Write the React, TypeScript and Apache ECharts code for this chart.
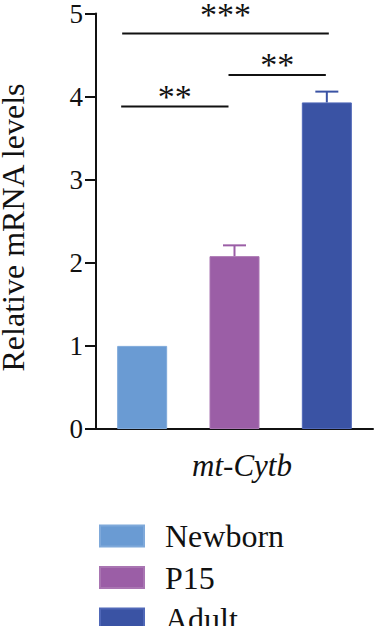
import React, { useEffect, useRef } from "react";
import * as echarts from "echarts";

const categories = ["Newborn", "P15", "Adult"];
const means = [1.0, 2.08, 3.93];
const sem = [0, 0.13, 0.13];
const colors = ["#6A9BD3", "#9B5EA6", "#3A53A4"];
const borderColors = ["#7FA9DA", "#A975B2", "#5068B8"];

const sigFrom = [0, 1, 0];
const sigTo = [1, 2, 2];
const sigY = [3.88, 4.26, 4.76];
const sigLabels = ["**", "**", "***"];

const yMin = 0;
const yMax = 5;
const yInterval = 1;

const xTitle = "mt-Cytb";
const yTitle = "Relative mRNA levels";

// pixel offsets (style) for significance brackets
const sigFromOff = [-21, -6, -20];
const sigToOff = [-6, -1, 2];
const sigTextGap = [10, 10, 19];

const FONT = "'Liberation Serif', 'Times New Roman', serif";

export default function App() {
  const ref = useRef<HTMLDivElement>(null);

  useEffect(() => {
    document.body.style.margin = "0";
    const chart = echarts.init(ref.current!, null, { renderer: "svg" });

    const barSeries = categories.map((name, i) => ({
      name,
      type: "bar",
      barWidth: 50,
      barGap: "-100%",
      data: categories.map((_, j) => (j === i ? means[j] : null)),
      itemStyle: { color: colors[i], borderColor: borderColors[i], borderWidth: 1 },
      z: 2,
    }));

    const errData = categories
      .map((_, i) => [i, means[i], means[i] + sem[i]])
      .filter((d) => sem[d[0]] > 0);

    const sigData = sigFrom.map((f, i) => [f, sigTo[i], sigY[i], i]);

    const option: any = {
      animation: false,
      grid: { left: 96, right: 2, top: 9, bottom: 626 - 429 },
      legend: {
        data: categories,
        orient: "vertical",
        left: 94,
        top: 515,
        height: 140,
        icon: "rect",
        itemWidth: 44,
        itemHeight: 21,
        itemGap: 9.5,
        selectedMode: false,
        textStyle: {
          fontFamily: FONT,
          fontSize: 32,
          color: "#111",
          padding: [0, 0, 0, 16],
        },
      },
      xAxis: {
        type: "category",
        data: categories,
        axisLine: { lineStyle: { color: "#111", width: 2 } },
        axisTick: { alignWithLabel: true, length: 10, lineStyle: { color: "#111", width: 2 } },
        axisLabel: { show: false },
        splitLine: { show: false },
      },
      yAxis: {
        type: "value",
        min: yMin,
        max: yMax,
        interval: yInterval,
        axisLine: { show: true, lineStyle: { color: "#111", width: 2 } },
        axisTick: { show: true, length: 11, lineStyle: { color: "#111", width: 2 } },
        axisLabel: { fontFamily: FONT, fontSize: 27, color: "#111", margin: 13 },
        splitLine: { show: false },
      },
      graphic: [
        {
          type: "text",
          x: 12.5,
          y: 227.5,
          rotation: Math.PI / 2,
          style: {
            text: yTitle,
            font: `32px ${FONT}`,
            lineHeight: 24,
            fill: "#111",
            textAlign: "center",
            textVerticalAlign: "middle",
          },
        },
        {
          type: "text",
          x: 242,
          y: 465.5,
          style: {
            text: xTitle,
            font: `italic 31px ${FONT}`,
            fill: "#111",
            textAlign: "center",
            textVerticalAlign: "middle",
          },
        },
      ],
      series: [
        ...barSeries,
        {
          type: "custom",
          name: "err",
          data: errData,
          encode: { x: 0, y: 2 },
          z: 3,
          renderItem: (params: any, api: any) => {
            const idx = api.value(0);
            const base = api.coord([idx, api.value(1)]);
            const top = api.coord([idx, api.value(2)]);
            const half = 11.5;
            const col = colors[idx];
            return {
              type: "group",
              children: [
                {
                  type: "line",
                  shape: { x1: base[0], y1: base[1], x2: top[0], y2: top[1] },
                  style: { stroke: col, lineWidth: 2 },
                },
                {
                  type: "line",
                  shape: { x1: top[0] - half, y1: top[1], x2: top[0] + half, y2: top[1] },
                  style: { stroke: col, lineWidth: 2 },
                },
              ],
            };
          },
        },
        {
          type: "custom",
          name: "sig",
          data: sigData,
          encode: { x: [0, 1], y: 2 },
          z: 3,
          renderItem: (params: any, api: any) => {
            const k = api.value(3);
            const p0 = api.coord([api.value(0), api.value(2)]);
            const p1 = api.coord([api.value(1), api.value(2)]);
            const x1 = p0[0] + sigFromOff[k];
            const x2 = p1[0] + sigToOff[k];
            return {
              type: "group",
              children: [
                {
                  type: "line",
                  shape: { x1, y1: p0[1], x2, y2: p0[1] },
                  style: { stroke: "#111", lineWidth: 2 },
                },
                {
                  type: "text",
                  x: (x1 + x2) / 2,
                  y: p0[1] - sigTextGap[k],
                  style: {
                    text: sigLabels[k],
                    font: `34px ${FONT}`,
                    lineHeight: 20,
                    fill: "#111",
                    textAlign: "center",
                    textVerticalAlign: "middle",
                  },
                },
              ],
            };
          },
        },
      ],
    };

    chart.setOption(option);
    return () => chart.dispose();
  }, []);

  return <div ref={ref} style={{ width: 375, height: 626 }} />;
}
